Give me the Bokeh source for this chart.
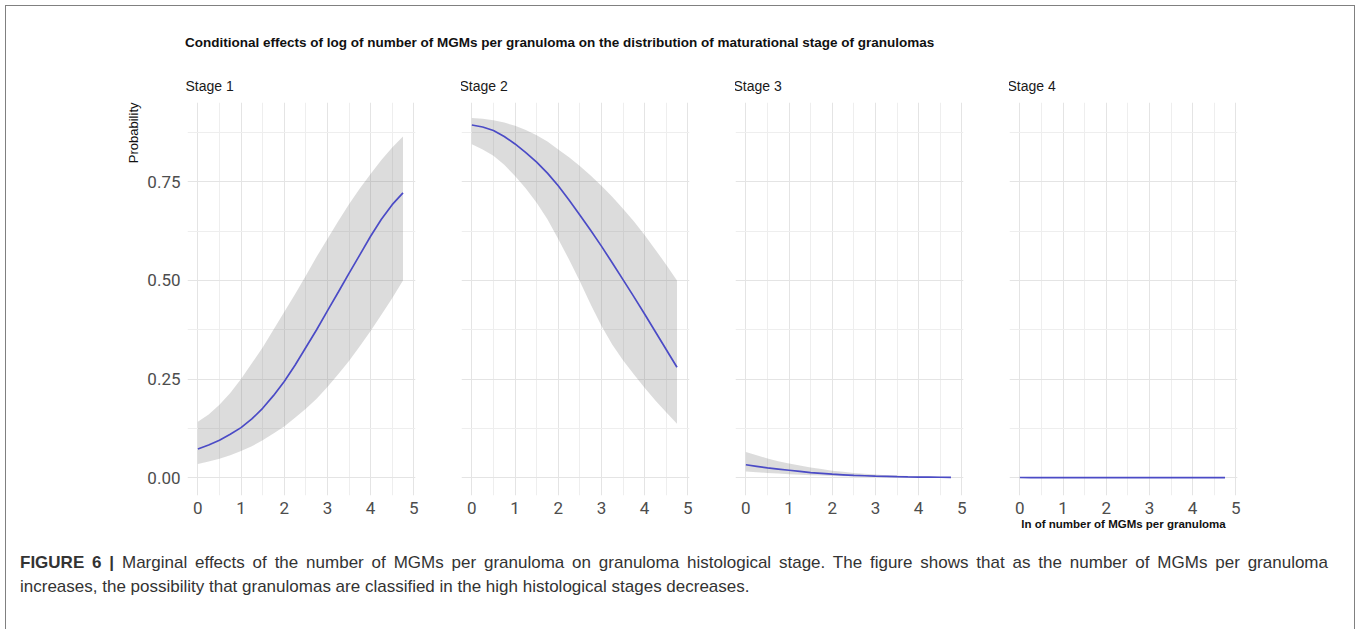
from bokeh.plotting import figure
from bokeh.layouts import row, column
from bokeh.models import Div, Title, FixedTicker, Range1d, NumeralTickFormatter
from bokeh.embed import file_html
from bokeh.resources import INLINE

# ---- data ----
x_vals = [0.0, 0.25, 0.5, 0.75, 1.0, 1.25, 1.5, 1.75, 2.0, 2.25,
          2.5, 2.75, 3.0, 3.25, 3.5, 3.75, 4.0, 4.25, 4.5, 4.75]

stage1_mean = [0.073, 0.083, 0.095, 0.110, 0.127, 0.149, 0.176, 0.208, 0.244, 0.285,
               0.330, 0.375, 0.423, 0.470, 0.518, 0.565, 0.612, 0.655, 0.692, 0.722]
stage1_low = [0.035, 0.041, 0.048, 0.057, 0.068, 0.080, 0.095, 0.112, 0.130, 0.152,
              0.175, 0.200, 0.230, 0.262, 0.296, 0.333, 0.372, 0.413, 0.455, 0.500]
stage1_high = [0.142, 0.160, 0.185, 0.215, 0.250, 0.290, 0.330, 0.375, 0.420, 0.465,
               0.512, 0.560, 0.605, 0.650, 0.693, 0.733, 0.770, 0.805, 0.837, 0.865]

stage2_mean = [0.894, 0.889, 0.880, 0.865, 0.846, 0.824, 0.800, 0.772, 0.740, 0.704,
               0.666, 0.627, 0.587, 0.545, 0.502, 0.459, 0.415, 0.370, 0.325, 0.280]
stage2_low = [0.845, 0.832, 0.816, 0.793, 0.765, 0.733, 0.697, 0.655, 0.605, 0.553,
              0.498, 0.440, 0.385, 0.338, 0.298, 0.262, 0.228, 0.196, 0.166, 0.137]
stage2_high = [0.912, 0.910, 0.906, 0.900, 0.892, 0.881, 0.868, 0.852, 0.832, 0.812,
               0.790, 0.766, 0.740, 0.712, 0.682, 0.650, 0.615, 0.578, 0.540, 0.500]

stage3_mean = [0.033, 0.029, 0.025, 0.022, 0.019, 0.016, 0.013, 0.011, 0.009, 0.0075,
               0.006, 0.005, 0.004, 0.0033, 0.0027, 0.0022, 0.0018, 0.0015, 0.0012, 0.001]
stage3_low = [0.016, 0.014, 0.012, 0.0105, 0.009, 0.0077, 0.0065, 0.0055, 0.0046, 0.0038,
              0.0031, 0.0025, 0.002, 0.0016, 0.0013, 0.001, 0.0008, 0.0006, 0.0005, 0.0004]
stage3_high = [0.065, 0.057, 0.049, 0.042, 0.036, 0.031, 0.026, 0.022, 0.018, 0.015,
               0.012, 0.010, 0.008, 0.0066, 0.0054, 0.0044, 0.0036, 0.003, 0.0025, 0.002]

stage4_mean = [0.0006, 0.0005, 0.0005, 0.0004, 0.0004, 0.0003, 0.0003, 0.0003, 0.0002, 0.0002,
               0.0002, 0.0002, 0.0001, 0.0001, 0.0001, 0.0001, 0.0001, 0.0001, 0.0001, 0.0001]
stage4_low = [0.0001, 0.0001, 0.0001, 0.0001, 0.0001, 0.0, 0.0, 0.0, 0.0, 0.0,
              0.0, 0.0, 0.0, 0.0, 0.0, 0.0, 0.0, 0.0, 0.0, 0.0]
stage4_high = [0.002, 0.0018, 0.0016, 0.0014, 0.0012, 0.001, 0.0009, 0.0008, 0.0007, 0.0006,
               0.0005, 0.0004, 0.0004, 0.0003, 0.0003, 0.0002, 0.0002, 0.0002, 0.0002, 0.0002]

stage_names = ["Stage 1", "Stage 2", "Stage 3", "Stage 4"]
series = [(stage1_mean, stage1_low, stage1_high),
          (stage2_mean, stage2_low, stage2_high),
          (stage3_mean, stage3_low, stage3_high),
          (stage4_mean, stage4_low, stage4_high)]

x_ticks = [0, 1, 2, 3, 4, 5]
x_minor = [0.5, 1.5, 2.5, 3.5, 4.5]
y_ticks = [0.0, 0.25, 0.5, 0.75]
y_minor = [0.125, 0.375, 0.625, 0.875]

main_title = "Conditional effects of log of number of MGMs per granuloma on the distribution of maturational stage of granulomas"
y_title = "Probability"
x_title = "ln of number of MGMs per granuloma"
caption_bold = "FIGURE 6 |"
caption_line1 = ("Marginal effects of the number of MGMs per granuloma on granuloma histological stage. "
                 "The figure shows that as the number of MGMs per granuloma")
caption_line2 = "increases, the possibility that granulomas are classified in the high histological stages decreases."

# ---- style ----
LINE_COLOR = "#4b4bc6"
RIBBON_COLOR = "#7f7f7f"
GRID_MAJOR = "#e4e4e4"
GRID_MINOR = "#eeeeee"
TICK_FONT = "Roboto"
TEXT_FONT = "Liberation Sans"

FRAME_W = 228
FRAME_H = 393
TOP = 35
BOTTOM = 40
lefts = [187, 0, 0, 0]
rights = [46, 46, 46, 121]

figs = []
for i, (name, (m, lo, hi)) in enumerate(zip(stage_names, series)):
    p = figure(frame_width=FRAME_W, frame_height=FRAME_H,
               x_range=Range1d(-0.24, 5.04), y_range=Range1d(-0.045, 0.951),
               output_backend="svg", toolbar_location=None,
               y_axis_location="left" if i == 0 else None,
               min_border_left=lefts[i], min_border_right=rights[i],
               min_border_top=TOP, min_border_bottom=BOTTOM,
               border_fill_color=None, background_fill_color=None,
               outline_line_color=None, margin=0)
    p.title.text = name
    p.title.align = "left"
    p.title.text_font = TEXT_FONT
    p.title.text_font_size = "14px"
    p.title.text_font_style = "normal"
    p.title.text_color = "#1a1a1a"
    p.title.standoff = 17
    p.title.offset = -2

    # grids
    p.xgrid.ticker = FixedTicker(ticks=x_ticks, minor_ticks=x_minor)
    p.ygrid.ticker = FixedTicker(ticks=y_ticks, minor_ticks=y_minor)
    p.xgrid.grid_line_color = GRID_MAJOR
    p.ygrid.grid_line_color = GRID_MAJOR
    p.xgrid.minor_grid_line_color = GRID_MINOR
    p.ygrid.minor_grid_line_color = GRID_MINOR

    # x axis
    xa = p.xaxis[0]
    xa.ticker = FixedTicker(ticks=x_ticks, minor_ticks=x_minor)
    xa.axis_line_color = None
    xa.major_tick_line_color = None
    xa.minor_tick_line_color = None
    xa.major_label_text_font = TICK_FONT
    xa.major_label_text_font_size = "17px"
    xa.major_label_text_color = "#4d4d4d"
    xa.major_label_standoff = 0
    if i == 3:
        xa.axis_label = x_title
        xa.axis_label_text_font = TEXT_FONT
        xa.axis_label_text_font_size = "11.5px"
        xa.axis_label_text_font_style = "bold"
        xa.axis_label_text_color = "#111111"
        xa.axis_label_standoff = 1

    if i == 0:
        ya = p.yaxis[0]
        ya.ticker = FixedTicker(ticks=y_ticks, minor_ticks=y_minor)
        ya.formatter = NumeralTickFormatter(format="0.00")
        ya.axis_line_color = None
        ya.major_tick_line_color = None
        ya.minor_tick_line_color = None
        ya.major_label_text_font = TICK_FONT
        ya.major_label_text_font_size = "17px"
        ya.major_label_text_color = "#4d4d4d"
        ya.major_label_standoff = 1
        p.add_layout(Title(text=y_title, align="right", text_font=TEXT_FONT,
                           text_font_size="13px", text_font_style="normal",
                           text_color="#111111", standoff=8), "left")

    p.varea(x=x_vals, y1=lo, y2=hi, fill_color=RIBBON_COLOR, fill_alpha=0.27)
    p.line(x=x_vals, y=m, line_color=LINE_COLOR, line_width=1.7)
    figs.append(p)

title_div = Div(
    text=('<div style="padding:35px 0 0 185px; font-family:\'Liberation Sans\'; font-weight:bold; '
          'font-size:13.5px; line-height:16px; color:#111; white-space:nowrap">%s</div>' % main_title),
    width=1358, height=67, margin=0)

caption_div = Div(
    text=('<div style="padding:16px 0 0 20px; font-family:\'Liberation Sans\'; font-size:17px; '
          'line-height:24px; color:#333">'
          '<div style="width:1308px; text-align:justify; text-align-last:justify; white-space:normal">'
          '<b>%s</b> %s</div><div style="white-space:nowrap">%s</div></div>'
          % (caption_bold, caption_line1, caption_line2)),
    width=1358, height=94, margin=0)

figrow = row(*figs, spacing=0, margin=0)
layout = column(title_div, figrow, caption_div, spacing=0, margin=0,
                styles={"box-shadow": "inset 5px 5px 0 0 #ffffff, inset -3px 0 0 0 #ffffff, "
                                      "inset 6px 6px 0 0 #808080, inset -4px 0 0 0 #808080"})

open("out.html", "w").write(file_html(layout, INLINE))
